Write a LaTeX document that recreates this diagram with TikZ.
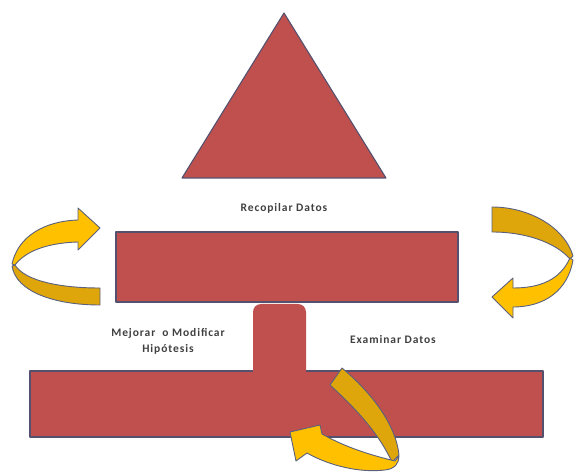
\documentclass[tikz,border=0pt]{standalone}
\usepackage{fontspec}
\setmainfont{Carlito}
\begin{document}
\begin{tikzpicture}[x=1pt,y=-1pt,
  redshape/.style={fill=shapered,draw=edgecol,line width=1.1pt,line join=round},
  lightband/.style={fill=bandlight,draw=arrowedge,line width=0.9pt,line join=round},
  darkband/.style={fill=banddark,draw=arrowedge,line width=0.9pt,line join=round},
  lbl/.style={font=\bfseries\fontsize{11.5}{16}\selectfont\addfontfeatures{LetterSpace=8},text=textgray,align=center,inner sep=0pt}]
\definecolor{shapered}{RGB}{192,80,77}
\definecolor{edgecol}{RGB}{85,80,110}
\definecolor{bandlight}{RGB}{255,192,0}
\definecolor{banddark}{RGB}{222,166,10}
\definecolor{arrowedge}{RGB}{90,96,128}
\definecolor{textgray}{RGB}{64,64,64}
\useasboundingbox (0,0) rectangle (574,476);
% triangle
\draw[redshape] (284,13) -- (386,178) -- (182,178) -- cycle;
\node[lbl] (recop) at (284,208) {Recopilar Datos};
% top rectangle
\draw[redshape] (116,232) rectangle (458,302);
% bottom rectangle
\draw[redshape] (30,371) rectangle (543,437);
% stem
\fill[shapered,rounded corners=8pt] (253,374) -- (253,304) -- (306,304) -- (306,374);
\fill[shapered] (253,368) rectangle (306,436);
% labels
\node[lbl] (mejorar) at (168,341) {Mejorar\ \ o Modificar\\Hipótesis};
\node[lbl] (examinar) at (393,340) {Examinar Datos};
% left arrow
\draw[darkband] (15,265) .. controls (25,281) and (60,288) .. (100,288) -- (100,305) .. controls (55,305) and (16,292) .. (12,266) -- cycle;
\draw[lightband] (12,264) .. controls (18,236) and (45,221) .. (78,220) -- (78,208) -- (100,228) -- (78,250) -- (78,242) .. controls (45,243) and (25,252) .. (15,265) -- cycle;
% right arrow
\draw[darkband] (492,207) .. controls (530,207) and (565,228) .. (573,256) -- (570,259) .. controls (555,242) and (525,232) .. (492,232) -- cycle;
\draw[lightband] (570,258) .. controls (560,280) and (540,288) .. (513,288) -- (513,278) -- (492,297) -- (513,318) -- (513,307) .. controls (545,307) and (568,290) .. (573,260) -- cycle;
% bottom arrow
\draw[darkband] (330,385) -- (342,368) .. controls (372,393) and (396,425) .. (399,455) -- (392,462) .. controls (378,432) and (355,408) .. (330,385) -- cycle;
\draw[lightband] (395,461) .. controls (370,455) and (345,447) .. (322,434) -- (320,425) -- (290,432) -- (296,461) -- (307,453) .. controls (330,466) and (360,473) .. (385,470) .. controls (395,469) and (399,463) .. (399,456) -- cycle;
\end{tikzpicture}
\end{document}
